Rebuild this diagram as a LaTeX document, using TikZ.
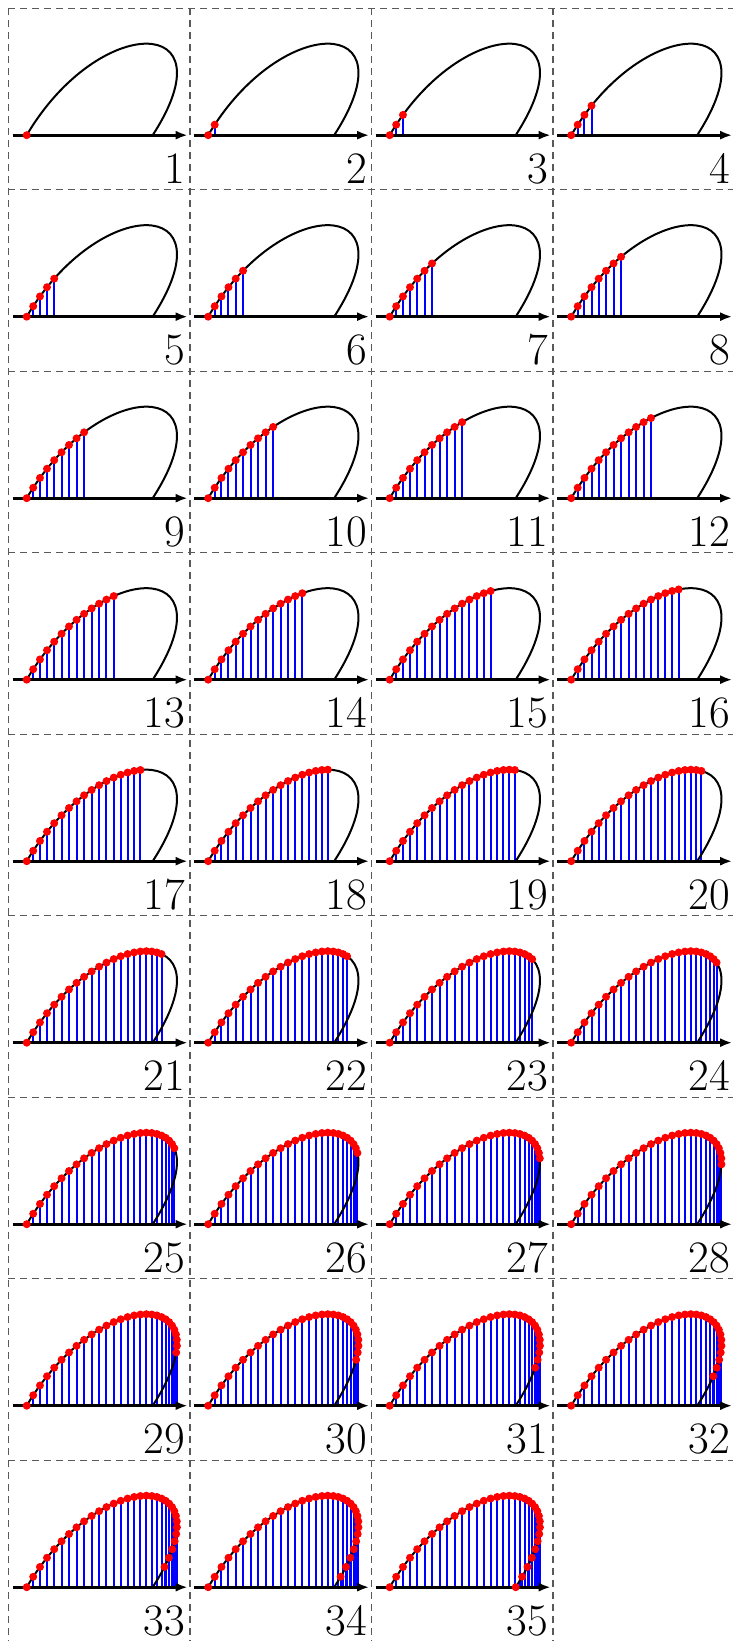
\documentclass[tikz,border=0pt]{standalone}
\usetikzlibrary{arrows.meta}
\tikzset{
  frame/.style={black!65,line width=0.6pt,dash pattern=on 3.5pt off 2.5pt},
  curve/.style={line width=1pt},
  axis/.style={line width=1.5pt,-{Latex[length=6pt,width=4.5pt]}},
  stem/.style={blue,line width=1pt},
  dot/.style={red},
  num/.style={anchor=base east,inner sep=0pt,font=\fontsize{22.5}{27}\selectfont}
}
\begin{document}
\begin{tikzpicture}[x=0.5pt,y=0.5pt]
\useasboundingbox (0,0) rectangle (733,1641);
\foreach \k in {0,...,3} \draw[frame] (8.4+181.5*\k,1632.7) -- (8.4+181.5*\k,0);
\foreach \k in {0,...,8} \draw[frame] (8.4,1632.7-181.5*\k) -- (733,1632.7-181.5*\k);
\foreach \n in {1,...,35} {
\pgfmathtruncatemacro\c{mod(\n-1,4)}\pgfmathtruncatemacro\r{div(\n-1,4)}\pgfmathtruncatemacro\m{\n-1}
\begin{scope}[shift={(26.7+181.5*\c,1505.8-181.5*\r)}]
\foreach \i in {0,...,\m} {\pgfmathsetmacro\t{\i/34}
\path (0,0) .. controls (72,122) and (205,122) .. (126,0) coordinate[pos=\t] (p\i);
\draw[stem] (p\i) -- (p\i |- 0,0);}
\draw[curve] (0,0) .. controls (72,122) and (205,122) .. (126,0);
\draw[axis] (-14,0) -- (161,0);
\foreach \i in {0,...,\m} \fill[dot] (p\i) circle (4);
\node[num] (n\n) at (159,-48) {\n};
\end{scope}}
\end{tikzpicture}
\end{document}
